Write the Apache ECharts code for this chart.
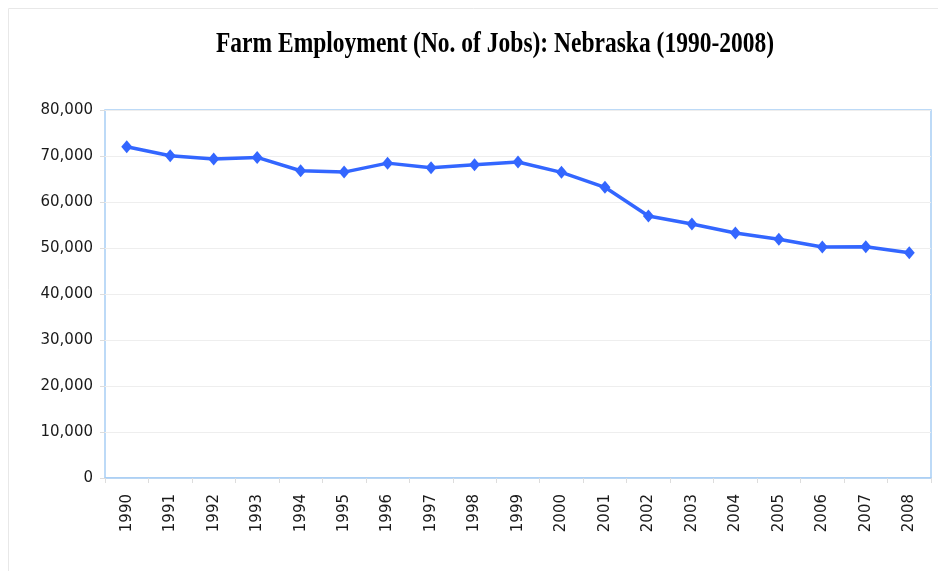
<!DOCTYPE html>
<html>
<head>
<meta charset="utf-8">
<script src="https://cdn.jsdelivr.net/npm/echarts@6/dist/echarts.min.js"></script>
<style>
  html, body { margin: 0; padding: 0; background: #fff; }
  #chart { width: 938px; height: 571px; }
</style>
</head>
<body>
<div id="chart"></div>
<script>
// data
const years = ["1990", "1991", "1992", "1993", "1994", "1995", "1996", "1997", "1998", "1999",
  "2000", "2001", "2002", "2003", "2004", "2005", "2006", "2007", "2008"];
const jobs = [72000, 70050, 69350, 69700, 66800, 66500, 68450, 67450, 68100, 68700,
  66450, 63200, 56950, 55200, 53250, 51900, 50200, 50250, 48950];
const yTicks = [0, 10000, 20000, 30000, 40000, 50000, 60000, 70000, 80000];
const chartTitle = "Farm Employment (No. of Jobs): Nebraska (1990-2008)";

const chart = echarts.init(document.getElementById("chart"));
chart.setOption({
  animation: false,
  graphic: [
    // faint frame round the picture, top and left only
    { type: "line", shape: { x1: 8.5, y1: 8.5, x2: 938, y2: 8.5 }, style: { stroke: "#e8e8e8", lineWidth: 1 } },
    { type: "line", shape: { x1: 8.5, y1: 8.5, x2: 8.5, y2: 571 }, style: { stroke: "#e8e8e8", lineWidth: 1 } },
    // title, a bit tall and narrow like the original
    {
      type: "text",
      x: 495,
      y: 45,
      scaleY: 1.22,
      style: {
        text: chartTitle,
        font: "bold 23.5px 'Liberation Serif'",
        fill: "#000",
        textAlign: "center",
        textVerticalAlign: "middle"
      }
    }
  ],
  grid: {
    left: 105,
    top: 110,
    right: 7,
    bottom: 93,
    show: true,
    borderColor: "#a8cef5",
    borderWidth: 1.5
  },
  xAxis: {
    type: "category",
    data: years,
    boundaryGap: true,
    axisLine: { lineStyle: { color: "#a8cef5", width: 1.5 } },
    axisTick: { show: true, length: 5, lineStyle: { color: "#ddd" } },
    axisLabel: {
      rotate: 90,
      margin: 16,
      fontFamily: "DejaVu Sans",
      fontSize: 15,
      color: "#1a1a1a"
    }
  },
  yAxis: {
    type: "value",
    min: yTicks[0],
    max: yTicks[yTicks.length - 1],
    interval: 10000,
    axisLine: { show: false },
    axisTick: { show: true, length: 5, lineStyle: { color: "#ddd" } },
    splitLine: { lineStyle: { color: "#eeeeee" } },
    axisLabel: {
      margin: 12,
      fontFamily: "DejaVu Sans",
      fontSize: 15,
      color: "#1a1a1a",
      formatter: v => v.toLocaleString("en-US")
    }
  },
  series: [
    {
      name: "Farm Employment",
      type: "line",
      data: jobs,
      symbol: "diamond",
      symbolSize: [11, 13],
      lineStyle: { color: "#3366ff", width: 3.5 },
      itemStyle: { color: "#3366ff" }
    }
  ]
});
</script>
</body>
</html>
